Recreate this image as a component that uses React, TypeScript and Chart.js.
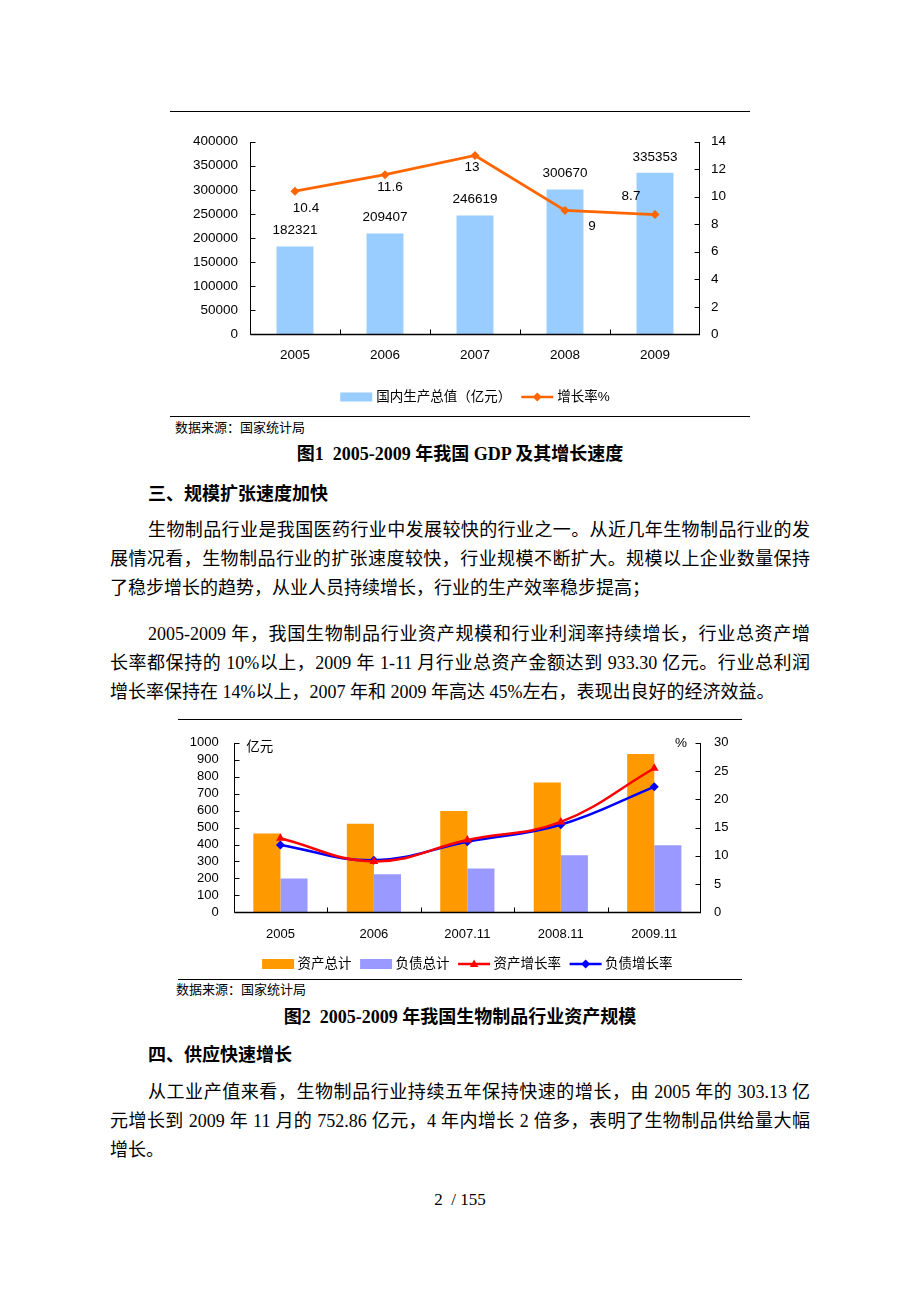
import React, { useEffect, useRef } from "react";
import { Chart, registerables } from "chart.js";

Chart.register(...registerables);

// ---------------- Chart 1 data ----------------
const GDP_YEARS = ["2005", "2006", "2007", "2008", "2009"];
const GDP_VALUES = [182321, 209407, 246619, 300670, 335353];
const GDP_GROWTH = [10.4, 11.6, 13, 9, 8.7];
const GDP_LEFT_TICKS = [0, 50000, 100000, 150000, 200000, 250000, 300000, 350000, 400000];
const GDP_RIGHT_TICKS = [0, 2, 4, 6, 8, 10, 12, 14];
const GDP_SERIES = ["国内生产总值（亿元）", "增长率%"];

// ---------------- Chart 2 data ----------------
const BIO_CATEGORIES = ["2005", "2006", "2007.11", "2008.11", "2009.11"];
const BIO_ASSETS = [465, 522, 598, 766, 933.3];
const BIO_LIABILITIES = [200, 225, 259, 337, 396];
const BIO_ASSET_GROWTH = [13.1, 9.0, 12.8, 16.0, 25.5];
const BIO_LIAB_GROWTH = [11.9, 9.2, 12.5, 15.5, 22.2];
const BIO_LEFT_TICKS = [0, 100, 200, 300, 400, 500, 600, 700, 800, 900, 1000];
const BIO_RIGHT_TICKS = [0, 5, 10, 15, 20, 25, 30];
const BIO_SERIES = ["资产总计", "负债总计", "资产增长率", "负债增长率"];
const BIO_LEFT_UNIT = "亿元";
const BIO_RIGHT_UNIT = "%";

// ---------------- styles ----------------
const SANS = "'Liberation Sans', Arial, 'Noto Sans CJK SC', sans-serif";
const SERIF = "'Liberation Serif', 'Times New Roman', 'Noto Sans CJK SC', serif";
const C_LIGHTBLUE = "#99CCFF";
const C_ORANGE_LINE = "#FF6600";
const C_ORANGE_BAR = "#FF9900";
const C_LAVENDER = "#9999FF";
const C_RED = "#FF0000";
const C_BLUE = "#0000FF";

// offsets of the growth-rate labels relative to their points (Excel placement)
const GDP_LINE_LABEL_OFFSETS = [
  [11, 17],
  [5, 13],
  [-3, 12],
  [27, 16],
  [-24, -18],
];

function rangeOf(ticks: number[]) {
  return { min: ticks[0], max: ticks[ticks.length - 1], stepSize: ticks[1] - ticks[0] };
}

function drawMarker(ctx: CanvasRenderingContext2D, kind: string, x: number, y: number, r: number, color: string) {
  ctx.save();
  ctx.fillStyle = color;
  ctx.beginPath();
  if (kind === "triangle") {
    ctx.moveTo(x, y - r);
    ctx.lineTo(x + r * 0.95, y + r * 0.65);
    ctx.lineTo(x - r * 0.95, y + r * 0.65);
  } else {
    ctx.moveTo(x, y - r);
    ctx.lineTo(x + r, y);
    ctx.lineTo(x, y + r);
    ctx.lineTo(x - r, y);
  }
  ctx.closePath();
  ctx.fill();
  ctx.restore();
}

const axesPlugin = {
  id: "excelAxes",
  afterDatasetsDraw(chart: any) {
    const { ctx, chartArea: a, scales } = chart;
    const L = Math.round(a.left) + 0.5;
    const R = Math.round(a.right) - 0.5;
    const B = Math.round(a.bottom) + 0.5;
    const T = Math.round(a.top);
    ctx.save();
    ctx.strokeStyle = "#000";
    ctx.lineWidth = 1;
    ctx.beginPath();
    ctx.moveTo(L, T);
    ctx.lineTo(L, B);
    ctx.moveTo(R, T);
    ctx.lineTo(R, B);
    const yl = scales.y;
    yl.ticks.forEach((_: any, i: number) => {
      const y = Math.round(yl.getPixelForTick(i)) + 0.5;
      ctx.moveTo(L, y);
      ctx.lineTo(L + 5, y);
    });
    const yr = scales.y1;
    yr.ticks.forEach((_: any, i: number) => {
      const y = Math.round(yr.getPixelForTick(i)) + 0.5;
      ctx.moveTo(R - 5, y);
      ctx.lineTo(R, y);
    });
    const xs = scales.x;
    const n = chart.data.labels.length;
    for (let i = 1; i < n; i++) {
      const x = Math.round((xs.getPixelForValue(i - 1) + xs.getPixelForValue(i)) / 2) + 0.5;
      ctx.moveTo(x, B);
      ctx.lineTo(x, B - 5);
    }
    ctx.stroke();
    ctx.lineWidth = 1.5;
    ctx.beginPath();
    ctx.moveTo(L, B);
    ctx.lineTo(R + 0.5, B);
    ctx.stroke();
    ctx.restore();
  },
};

type LegendItem = { kind: "box" | "line"; color: string; marker?: string; text: string };

function makeLegend(
  items: LegendItem[],
  y: number,
  o: { symW: number; boxH: number; gap: number; spacing: number; font: string }
) {
  return {
    id: "customLegend",
    afterDraw(chart: any) {
      const ctx = chart.ctx as CanvasRenderingContext2D;
      const a = chart.chartArea;
      ctx.save();
      ctx.font = o.font;
      const widths = items.map((it) => ctx.measureText(it.text).width);
      const total =
        items.reduce((s, it, i) => s + o.symW + o.gap + widths[i], 0) + o.spacing * (items.length - 1);
      let x = (a.left + a.right) / 2 - total / 2;
      items.forEach((it, i) => {
        if (it.kind === "box") {
          ctx.fillStyle = it.color;
          ctx.fillRect(x, y - o.boxH / 2, o.symW, o.boxH);
        } else {
          ctx.strokeStyle = it.color;
          ctx.lineWidth = 2.5;
          ctx.beginPath();
          ctx.moveTo(x, y);
          ctx.lineTo(x + o.symW, y);
          ctx.stroke();
          drawMarker(ctx, it.marker || "diamond", x + o.symW / 2, y, 4.5, it.color);
        }
        x += o.symW + o.gap;
        ctx.fillStyle = "#000";
        ctx.textBaseline = "middle";
        ctx.textAlign = "left";
        ctx.fillText(it.text, x, y);
        x += widths[i] + o.spacing;
      });
      ctx.restore();
    },
  };
}

const gdpLabelsPlugin = {
  id: "gdpLabels",
  afterDatasetsDraw(chart: any) {
    const ctx = chart.ctx as CanvasRenderingContext2D;
    ctx.save();
    ctx.font = `13.5px ${SANS}`;
    ctx.fillStyle = "#000";
    ctx.textAlign = "center";
    ctx.textBaseline = "middle";
    const barMeta = chart.getDatasetMeta(1);
    barMeta.data.forEach((el: any, i: number) => {
      ctx.fillText(String(GDP_VALUES[i]), el.x, el.y - 16);
    });
    const lineMeta = chart.getDatasetMeta(0);
    lineMeta.data.forEach((el: any, i: number) => {
      const [dx, dy] = GDP_LINE_LABEL_OFFSETS[i];
      ctx.fillText(String(GDP_GROWTH[i]), el.x + dx, el.y + dy);
    });
    ctx.restore();
  },
};

const bioUnitsPlugin = {
  id: "bioUnits",
  afterDraw(chart: any) {
    const ctx = chart.ctx as CanvasRenderingContext2D;
    const a = chart.chartArea;
    ctx.save();
    ctx.font = `13.5px ${SANS}`;
    ctx.fillStyle = "#000";
    ctx.textBaseline = "middle";
    ctx.textAlign = "left";
    ctx.fillText(BIO_LEFT_UNIT, a.left + 12.5, a.top + 4);
    ctx.textAlign = "right";
    ctx.fillText(BIO_RIGHT_UNIT, a.right - 14, a.top + 0.5);
    ctx.restore();
  },
};

function axisBase(fontSize: number) {
  return {
    grid: { display: false, drawTicks: false },
    border: { display: false },
    ticks: {
      color: "#000",
      font: { family: SANS, size: fontSize },
      autoSkip: false,
      callback: function (this: any, v: any) {
        return this.getLabelForValue ? String(this.getLabelForValue(v)) : String(v);
      },
    },
  };
}

function numTicks(base: any) {
  return { ...base.ticks, callback: (v: any) => String(v) };
}

function gdpConfig(): any {
  const base = axisBase(13.5);
  return {
    type: "bar",
    data: {
      labels: GDP_YEARS,
      datasets: [
        {
          type: "line",
          label: GDP_SERIES[1],
          data: GDP_GROWTH,
          yAxisID: "y1",
          borderColor: C_ORANGE_LINE,
          backgroundColor: C_ORANGE_LINE,
          borderWidth: 2.8,
          pointStyle: "rectRot",
          pointRadius: 4.5,
          pointBorderWidth: 0,
          pointBackgroundColor: C_ORANGE_LINE,
          tension: 0,
          order: 0,
        },
        {
          type: "bar",
          label: GDP_SERIES[0],
          data: GDP_VALUES,
          yAxisID: "y",
          backgroundColor: C_LIGHTBLUE,
          categoryPercentage: 1,
          barPercentage: 0.41,
          order: 1,
        },
      ],
    },
    options: {
      responsive: false,
      animation: false,
      devicePixelRatio: 1,
      layout: { padding: { top: 29.7, bottom: 37.7, left: 0, right: 0 } },
      plugins: { legend: { display: false }, tooltip: { enabled: false } },
      scales: {
        x: {
          ...base,
          ticks: { ...base.ticks, padding: 13, maxRotation: 0 },
          afterFit: (s: any) => {
            s.height = 40;
          },
        },
        y: {
          ...base,
          position: "left",
          min: rangeOf(GDP_LEFT_TICKS).min,
          max: rangeOf(GDP_LEFT_TICKS).max,
          ticks: { ...numTicks(base), stepSize: rangeOf(GDP_LEFT_TICKS).stepSize, padding: 12 },
          afterFit: (s: any) => {
            s.width = 80;
          },
        },
        y1: {
          ...base,
          position: "right",
          min: rangeOf(GDP_RIGHT_TICKS).min,
          max: rangeOf(GDP_RIGHT_TICKS).max,
          ticks: { ...numTicks(base), stepSize: rangeOf(GDP_RIGHT_TICKS).stepSize, padding: 11 },
          afterFit: (s: any) => {
            s.width = 50;
          },
        },
      },
    },
    plugins: [
      axesPlugin,
      gdpLabelsPlugin,
      makeLegend(
        [
          { kind: "box", color: C_LIGHTBLUE, text: GDP_SERIES[0] },
          { kind: "line", color: C_ORANGE_LINE, marker: "diamond", text: GDP_SERIES[1] },
        ],
        285,
        { symW: 32, boxH: 9, gap: 4, spacing: 10, font: `13.5px ${SANS}` }
      ),
    ],
  };
}

function bioConfig(): any {
  const base = axisBase(13);
  return {
    type: "bar",
    data: {
      labels: BIO_CATEGORIES,
      datasets: [
        {
          type: "line",
          label: BIO_SERIES[2],
          data: BIO_ASSET_GROWTH,
          yAxisID: "y1",
          borderColor: C_RED,
          backgroundColor: C_RED,
          borderWidth: 2.5,
          pointStyle: "triangle",
          pointRadius: 5,
          pointBorderWidth: 0,
          pointBackgroundColor: C_RED,
          tension: 0.4,
          order: 0,
        },
        {
          type: "line",
          label: BIO_SERIES[3],
          data: BIO_LIAB_GROWTH,
          yAxisID: "y1",
          borderColor: C_BLUE,
          backgroundColor: C_BLUE,
          borderWidth: 2.5,
          pointStyle: "rectRot",
          pointRadius: 4.5,
          pointBorderWidth: 0,
          pointBackgroundColor: C_BLUE,
          tension: 0.4,
          order: 0,
        },
        {
          type: "bar",
          label: BIO_SERIES[0],
          data: BIO_ASSETS,
          yAxisID: "y",
          backgroundColor: C_ORANGE_BAR,
          categoryPercentage: 0.58,
          barPercentage: 1,
          order: 1,
        },
        {
          type: "bar",
          label: BIO_SERIES[1],
          data: BIO_LIABILITIES,
          yAxisID: "y",
          backgroundColor: C_LAVENDER,
          categoryPercentage: 0.58,
          barPercentage: 1,
          order: 1,
        },
      ],
    },
    options: {
      responsive: false,
      animation: false,
      devicePixelRatio: 1,
      layout: { padding: { top: 17.3, bottom: 27.7, left: 0, right: 0 } },
      plugins: { legend: { display: false }, tooltip: { enabled: false } },
      scales: {
        x: {
          ...base,
          ticks: { ...base.ticks, padding: 14, maxRotation: 0 },
          afterFit: (s: any) => {
            s.height = 35;
          },
        },
        y: {
          ...base,
          position: "left",
          min: rangeOf(BIO_LEFT_TICKS).min,
          max: rangeOf(BIO_LEFT_TICKS).max,
          ticks: { ...numTicks(base), stepSize: rangeOf(BIO_LEFT_TICKS).stepSize, padding: 15 },
          afterFit: (s: any) => {
            s.width = 55.7;
          },
        },
        y1: {
          ...base,
          position: "right",
          min: rangeOf(BIO_RIGHT_TICKS).min,
          max: rangeOf(BIO_RIGHT_TICKS).max,
          ticks: { ...numTicks(base), stepSize: rangeOf(BIO_RIGHT_TICKS).stepSize, padding: 13 },
          afterFit: (s: any) => {
            s.width = 41;
          },
        },
      },
    },
    plugins: [
      axesPlugin,
      bioUnitsPlugin,
      makeLegend(
        [
          { kind: "box", color: C_ORANGE_BAR, text: BIO_SERIES[0] },
          { kind: "box", color: C_LAVENDER, text: BIO_SERIES[1] },
          { kind: "line", color: C_RED, marker: "triangle", text: BIO_SERIES[2] },
          { kind: "line", color: C_BLUE, marker: "diamond", text: BIO_SERIES[3] },
        ],
        244,
        { symW: 32, boxH: 10, gap: 3.5, spacing: 8.5, font: `13.5px ${SANS}` }
      ),
    ],
  };
}

function ChartBox(props: { build: () => any; left: number; top: number; width: number; height: number }) {
  const ref = useRef<HTMLCanvasElement | null>(null);
  useEffect(() => {
    if (!ref.current) return;
    const chart = new Chart(ref.current, props.build());
    return () => chart.destroy();
  }, []);
  return (
    <div style={{ position: "absolute", left: props.left, top: props.top, width: props.width, height: props.height }}>
      <canvas ref={ref} width={props.width} height={props.height} style={{ width: props.width, height: props.height, display: "block" }} />
    </div>
  );
}

function Rule(props: { x1: number; x2: number; y: number }) {
  return (
    <div
      style={{
        position: "absolute",
        left: props.x1,
        top: props.y,
        width: props.x2 - props.x1,
        height: 1,
        background: "#000",
      }}
    />
  );
}

type Line = { text: string; x: number; y: number; w?: number; justify?: boolean; bold?: boolean; size?: number; family?: string; center?: boolean };

function TextLine({ l }: { l: Line }) {
  const size = l.size || 18;
  const lh = 26;
  const style: React.CSSProperties = {
    position: "absolute",
    top: l.y - lh / 2,
    height: lh,
    lineHeight: lh + "px",
    fontSize: size,
    fontFamily: l.family || SERIF,
    fontWeight: l.bold ? "bold" : "normal",
    color: "#000",
  };
  if (l.center) {
    style.left = 0;
    style.width = 920;
    style.textAlign = "center";
    style.whiteSpace = "pre";
  } else {
    style.left = l.x;
    if (l.w) style.width = l.w;
    if (l.justify) {
      style.textAlign = "justify";
      (style as any).textAlignLast = "justify";
    } else {
      style.whiteSpace = "nowrap";
    }
  }
  return <div style={style}>{l.text}</div>;
}

const TEXT_LINES: Line[] = [
  { text: "数据来源：国家统计局", x: 175, y: 428, size: 13, family: SANS },
  { text: "图1  2005-2009 年我国 GDP 及其增长速度", x: 0, y: 454, bold: true, center: true },
  { text: "三、规模扩张速度加快", x: 148, y: 494, bold: true },
  { text: "生物制品行业是我国医药行业中发展较快的行业之一。从近几年生物制品行业的发", x: 148, y: 530, w: 662, justify: true },
  { text: "展情况看，生物制品行业的扩张速度较快，行业规模不断扩大。规模以上企业数量保持", x: 110, y: 559, w: 700, justify: true },
  { text: "了稳步增长的趋势，从业人员持续增长，行业的生产效率稳步提高；", x: 110, y: 588 },
  { text: "2005-2009 年，我国生物制品行业资产规模和行业利润率持续增长，行业总资产增", x: 148, y: 634, w: 662, justify: true },
  { text: "长率都保持的 10%以上，2009 年 1-11 月行业总资产金额达到 933.30 亿元。行业总利润", x: 110, y: 663, w: 700, justify: true },
  { text: "增长率保持在 14%以上，2007 年和 2009 年高达 45%左右，表现出良好的经济效益。", x: 110, y: 692 },
  { text: "数据来源：国家统计局", x: 176, y: 990, size: 13, family: SANS },
  { text: "图2  2005-2009 年我国生物制品行业资产规模", x: 0, y: 1017, bold: true, center: true },
  { text: "四、供应快速增长", x: 148, y: 1055, bold: true },
  { text: "从工业产值来看，生物制品行业持续五年保持快速的增长，由 2005 年的 303.13 亿", x: 148, y: 1092, w: 662, justify: true },
  { text: "元增长到 2009 年 11 月的 752.86 亿元，4 年内增长 2 倍多，表明了生物制品供给量大幅", x: 110, y: 1121, w: 700, justify: true },
  { text: "增长。", x: 110, y: 1150 },
  { text: "2  / 155", x: 0, y: 1200, size: 17, center: true },
];

export default function App() {
  return (
    <div
      style={{
        position: "absolute",
        left: 0,
        top: 0,
        width: 920,
        height: 1302,
        background: "#fff",
        overflow: "hidden",
      }}
    >
      <Rule x1={170} x2={750} y={111} />
      <ChartBox build={gdpConfig} left={170} top={112} width={580} height={300} />
      <Rule x1={170} x2={750} y={416} />
      <Rule x1={178} x2={742} y={719} />
      <ChartBox build={bioConfig} left={178} top={720} width={564} height={255} />
      <Rule x1={178} x2={742} y={979} />
      {TEXT_LINES.map((l, i) => (
        <TextLine key={i} l={l} />
      ))}
    </div>
  );
}
